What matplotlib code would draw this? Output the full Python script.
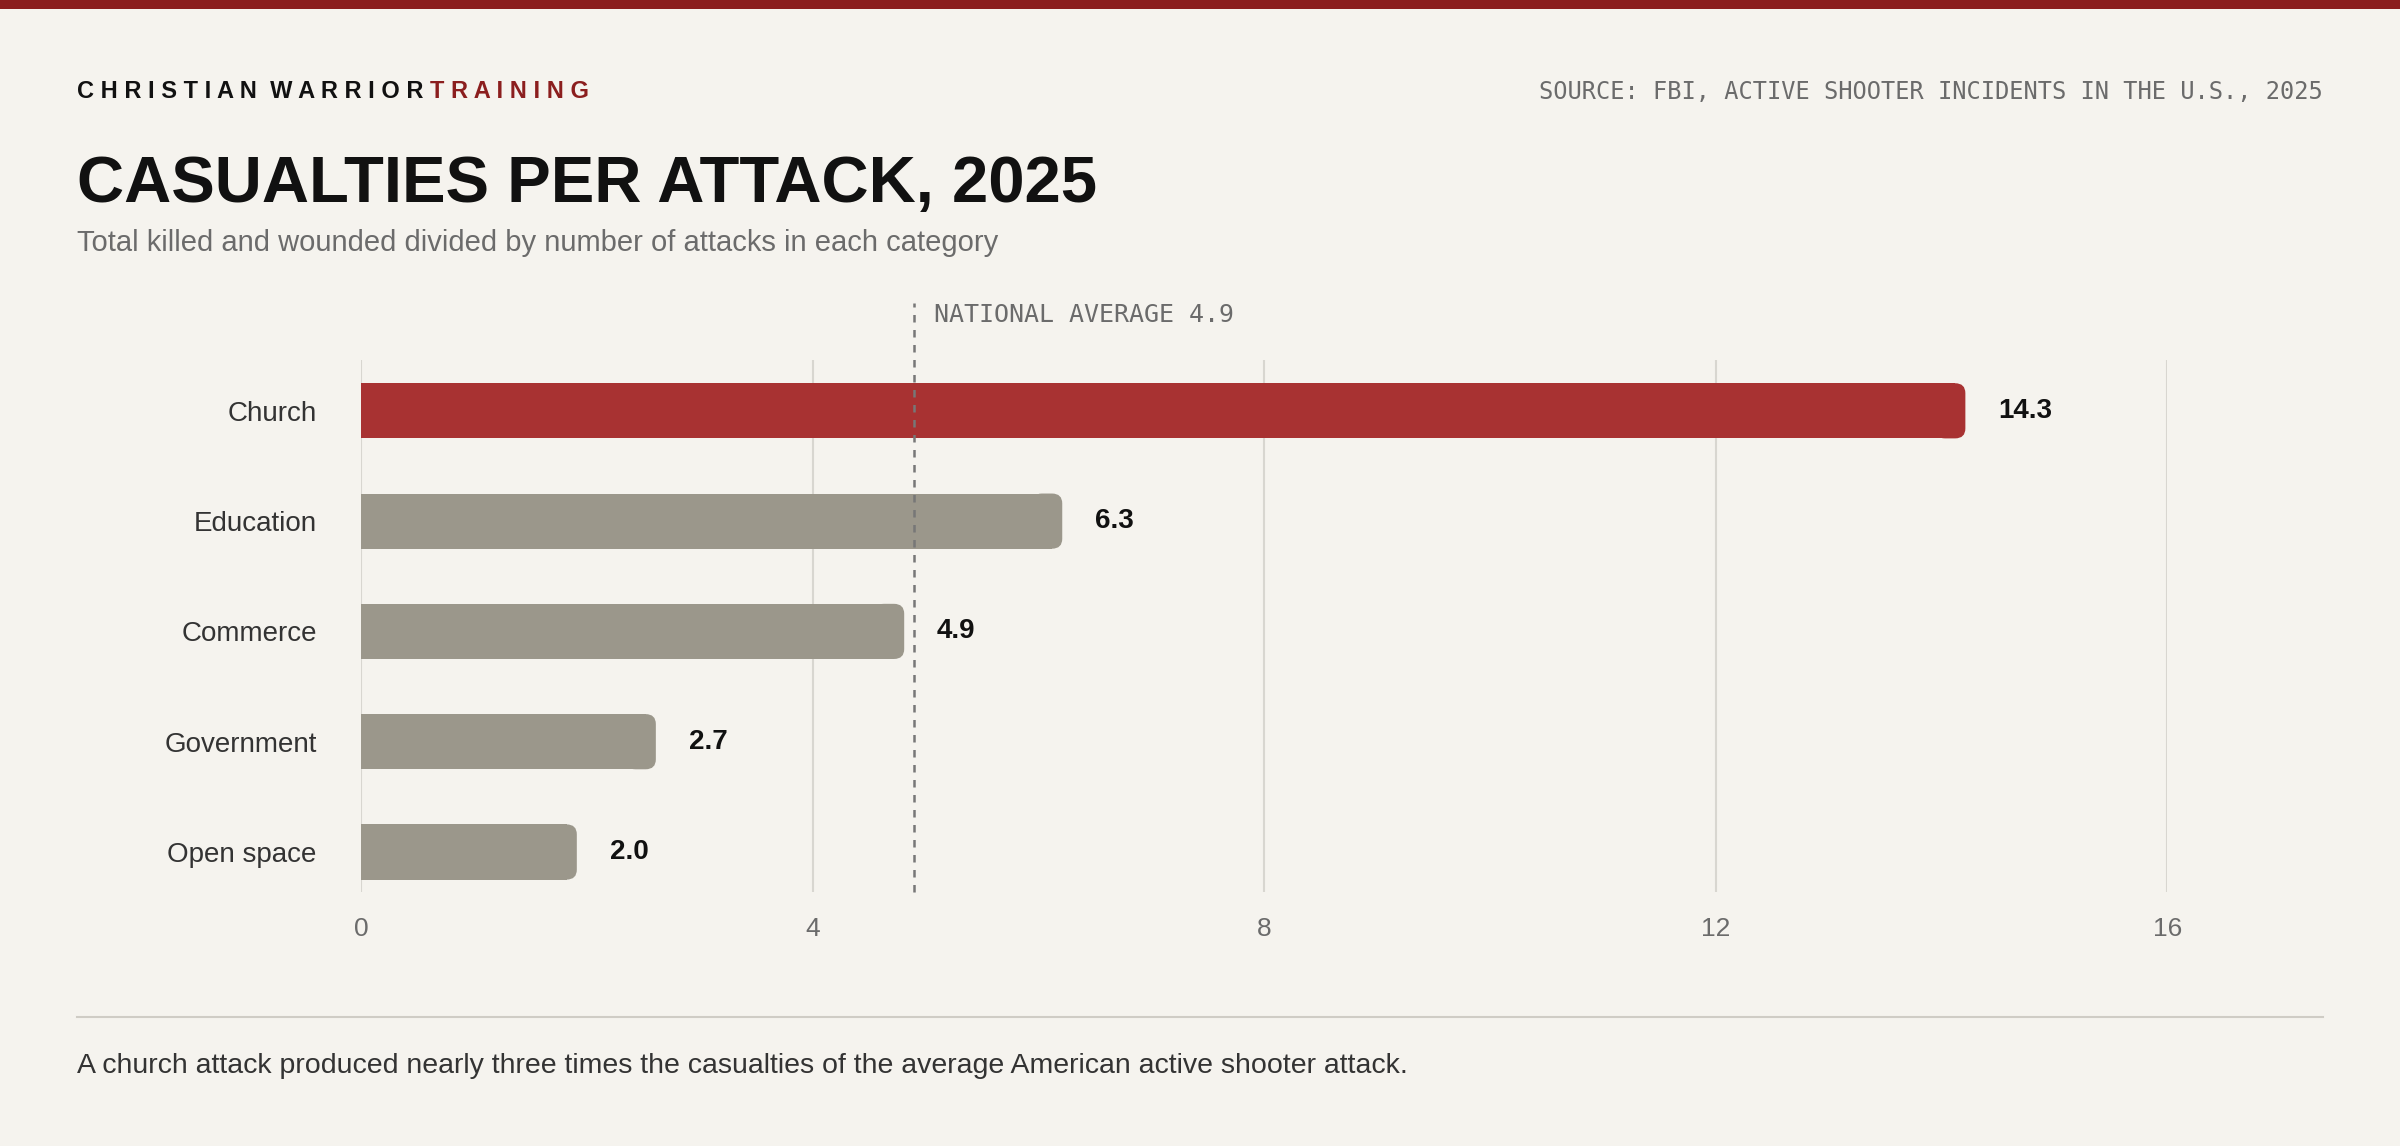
import numpy as np
import matplotlib.pyplot as plt
from matplotlib.patches import FancyBboxPatch

categories = ["Church", "Education", "Commerce", "Government", "Open space"]
values = [14.3, 6.3, 4.9, 2.7, 2.0]
national_avg = 4.9
xticks = [0, 4, 8, 12, 16]

bg = "#f5f3ee"
red = "#a83232"
grey = "#9b978b"

plt.rcParams['font.family'] = ['Liberation Sans', 'DejaVu Sans']
fig = plt.figure(figsize=(24, 11.46), dpi=100, facecolor=bg)

# top red strip
fig.add_artist(plt.Rectangle((0, 0.992), 1, 0.008, transform=fig.transFigure,
                             color="#8b1e1e", lw=0))

ax = fig.add_axes([0.1505, 0.2219, 0.7526, 0.4639])
ax.set_facecolor(bg)
ax.set_xlim(0, 16)
ax.set_ylim(4.36, -0.46)

h = 0.5
r = 0.09
for i, (c, v) in enumerate(zip(categories, values)):
    col = red if i == 0 else grey
    ax.add_patch(plt.Rectangle((0, i - h / 2), v - 2 * r, h, color=col, lw=0, zorder=3))
    ax.add_patch(FancyBboxPatch((v - 4 * r + r, i - h / 2 + r), 3 * r - 2 * r, h - 2 * r,
                                boxstyle=f"round,pad={r}", color=col, lw=0, zorder=3,
                                mutation_aspect=1.0))
    ax.text(v + 0.2, i, f"{v:.1f}", va="center", ha="left", fontsize=20,
            fontweight="bold", color="#111111", zorder=4)

for t in xticks:
    ax.axvline(t, color="#d8d6d0", lw=1.5, zorder=1)
ax.axvline(national_avg, ymin=0, ymax=1.107, color="#777777", lw=1.8,
           ls=(0, (3, 3)), zorder=5, clip_on=False)

ax.set_xticks(xticks)
ax.set_xticklabels([str(t) for t in xticks], fontsize=19, color="#6b6b6b")
ax.set_yticks(range(len(categories)))
ax.set_yticklabels(categories, fontsize=20, color="#333333")
ax.tick_params(axis="y", length=0, pad=32)
ax.tick_params(axis="x", length=0, pad=18)
for s in ax.spines.values():
    s.set_visible(False)

# header texts
t1 = fig.text(0.0319, 0.92, "C H R I S T I A N  W A R R I O R ", fontsize=17,
              fontweight="bold", color="#111111", va="center")
fig.canvas.draw()
bb = t1.get_window_extent().transformed(fig.transFigure.inverted())
fig.text(bb.x1, 0.92, "T R A I N I N G", fontsize=17, fontweight="bold",
         color="#8b1e1e", va="center")
fig.text(0.968, 0.92, "SOURCE: FBI, ACTIVE SHOOTER INCIDENTS IN THE U.S., 2025",
         family="DejaVu Sans Mono", fontsize=17, color="#6b6b6b", ha="right", va="center")
fig.text(0.0319, 0.8235, "CASUALTIES PER ATTACK, 2025", fontsize=47,
         fontweight="bold", color="#111111")
fig.text(0.0319, 0.781, "Total killed and wounded divided by number of attacks in each category",
         fontsize=21, color="#6b6b6b")
fig.text(0.389, 0.719, f"NATIONAL AVERAGE {national_avg}", family="DejaVu Sans Mono",
         fontsize=18, color="#6b6b6b")

fig.add_artist(plt.Line2D([0.0319, 0.968], [0.1123, 0.1123], transform=fig.transFigure,
                          color="#cfccc5", lw=1.5))
fig.text(0.0319, 0.064, "A church attack produced nearly three times the casualties of the average American active shooter attack.",
         fontsize=20.5, color="#333333")

fig.savefig("out.png", dpi=100, facecolor=bg)
